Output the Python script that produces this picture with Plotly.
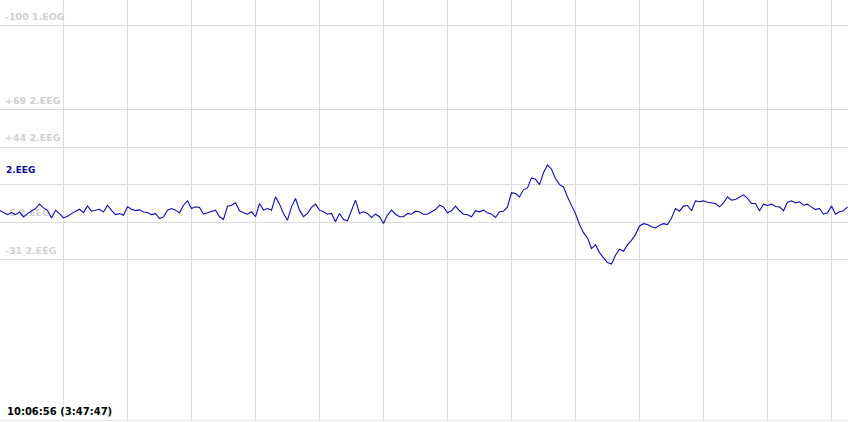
import plotly.graph_objects as go

# ---- data (µV), one sample every 1/16 s ----
eeg_seg1 = [1.8, 0.3, -1.1, 0.3, -1.1, 0.7, -2.6, -0.4, 1.2, 3.0, 6.0, 3.4, 1.8, -3.3, 1.8,
            -0.4, -3.3, -2.2, -0.4, 1.2, 2.5, 0.3, 4.7, 1.2, 1.6, 2.5, 0.7, 5.2, 1.8, -1.1,
            -0.4, -1.5, 4.1, 2.5, 1.6, 2.1, 0.7, 0.3, -1.1, -0.4, -3.7, -2.6, 1.8]
eeg_seg2 = [3.0, 1.9, 0.1, 5.2, 8.1, 3.0, 4.1, 3.7, -0.8, 0.1, 0.8, 1.9, -2.5, -4.3, 4.6,
            5.2, 6.8, 1.5, 0.1, -0.8, 0.8, -2.5, 6.3, 1.9, 3.0, 1.9, 10.8, 5.9, -0.3, -4.8,
            4.1, 9.7, 1.9, -2.5, -0.3, 3.7, 5.9, 1.9, 0.8, -0.8, -0.3, -5.9, -0.3]
eeg_seg3 = [-4.3, -5.2, 2.3, 8.6, -0.3, 0.8, -0.3, -3.0, -0.8, -2.5, -7.0, -1.4, 1.9, -0.8,
            -2.5, -2.5, -0.3, -0.8, 1.2, 0.8, -0.8, -0.8, 0.8, 2.3, 5.2, 4.1, 0.1, 1.5, 4.6,
            1.5, -0.8, -1.2, -2.5, 1.5, 0.8, 1.9, 0.1, -0.8, -3.0, 0.8, 1.2, 4.1]
eeg_seg4 = [13.6, 13.0, 10.7, 15.6, 16.7, 23.4, 22.5, 18.9, 26.9, 32.0, 29.2, 23.0, 18.9,
            17.4, 10.7, 5.6, -0.4, -7.7, -13.1, -16.6, -23.7, -21.1, -26.4, -29.9, -33.0,
            -34.0, -28.2, -24.2, -25.5, -21.1, -18.2, -14.4, -8.6, -7.1, -7.7, -9.1, -10.0,
            -8.2, -7.1, -7.7, -3.3, 2.9, 1.2]
eeg_seg5 = [4.6, 5.0, 1.5, 8.1, 7.5, 8.1, 7.2, 6.8, 6.3, 4.1, 6.8, 10.8, 8.6, 9.0, 10.3,
            12.1, 9.7, 6.3, 6.3, 1.5, 5.9, 5.0, 5.9, 4.3, 4.1, 1.5, 7.2, 8.1, 6.8, 7.5, 5.2,
            5.9, 3.9, 2.3, 3.0, -0.8, 0.1, 4.6, -0.8, 0.8, 1.5, 4.1]
eeg = eeg_seg1 + eeg_seg2 + eeg_seg3 + eeg_seg4 + eeg_seg5
sample_rate = 16
times = [i / sample_rate for i in range(len(eeg))]

grid_levels = [125, 69, 44, 19, -6, -31]
level_labels = ["-100 1.EOG", "+69 2.EEG", "+44 2.EEG", "", "-6 2.EEG", "-31 2.EEG"]
channel_label = "2.EEG"
time_label = "10:06:56 (3:47:47)"

# ---- styling ----
W, H = 848, 422
x_range = [0.0078, 0.0078 + W / 64]
y_range = [-138, 142]
px_x = (x_range[1] - x_range[0]) / W
px_y = (y_range[1] - y_range[0]) / 420
GRID = "#dcdcdc"
LABEL_GREY = "#d0d0d0"
TRACE = "#0c0caa"
FONT = "DejaVu Sans"

fig = go.Figure()

lbl_levels = [g for g, l in zip(grid_levels, level_labels) if l]
lbl_texts = [l for l in level_labels if l]
fig.add_trace(go.Scatter(
    x=[x_range[0] + 5 * px_x] * len(lbl_levels),
    y=[g + 8 * px_y for g in lbl_levels],
    text=lbl_texts, mode="text", textposition="middle right",
    textfont=dict(family=FONT, size=9.5, color=LABEL_GREY, weight="bold"),
    hoverinfo="skip", showlegend=False))

fig.add_trace(go.Scatter(
    x=times, y=eeg, mode="lines",
    line=dict(color=TRACE, width=1.1), showlegend=False, hoverinfo="skip"))

fig.add_annotation(
    x=x_range[0] + 4 * px_x, y=grid_levels[3] + 14.5 * px_y,
    xref="x", yref="y", text=channel_label, showarrow=False,
    xanchor="left", yanchor="middle",
    font=dict(family=FONT, size=9, color="#0a0a9a", weight="bold"))

fig.add_annotation(
    x=0, y=0, xref="paper", yref="paper", text=time_label, showarrow=False,
    xanchor="left", yanchor="bottom", xshift=5, yshift=1,
    bgcolor="white", borderpad=1,
    font=dict(family=FONT, size=10, color="black", weight="bold"))

fig.update_layout(
    width=W, height=H,
    margin=dict(l=0, r=0, t=0, b=2),
    paper_bgcolor="white", plot_bgcolor="white",
    xaxis=dict(range=x_range, tick0=1, dtick=1, showgrid=True, gridcolor=GRID,
               gridwidth=1, showticklabels=False, zeroline=False, ticks="",
               showline=True, linecolor="#e8e8e8", linewidth=1),
    yaxis=dict(range=y_range, tickmode="array", tickvals=grid_levels, showgrid=True,
               gridcolor=GRID, gridwidth=1, showticklabels=False, zeroline=False,
               ticks=""),
)

fig.write_html(
    "out.html",
    config={"displayModeBar": False},
    post_script="document.body.style.margin='0';document.body.style.overflow='hidden';",
)
